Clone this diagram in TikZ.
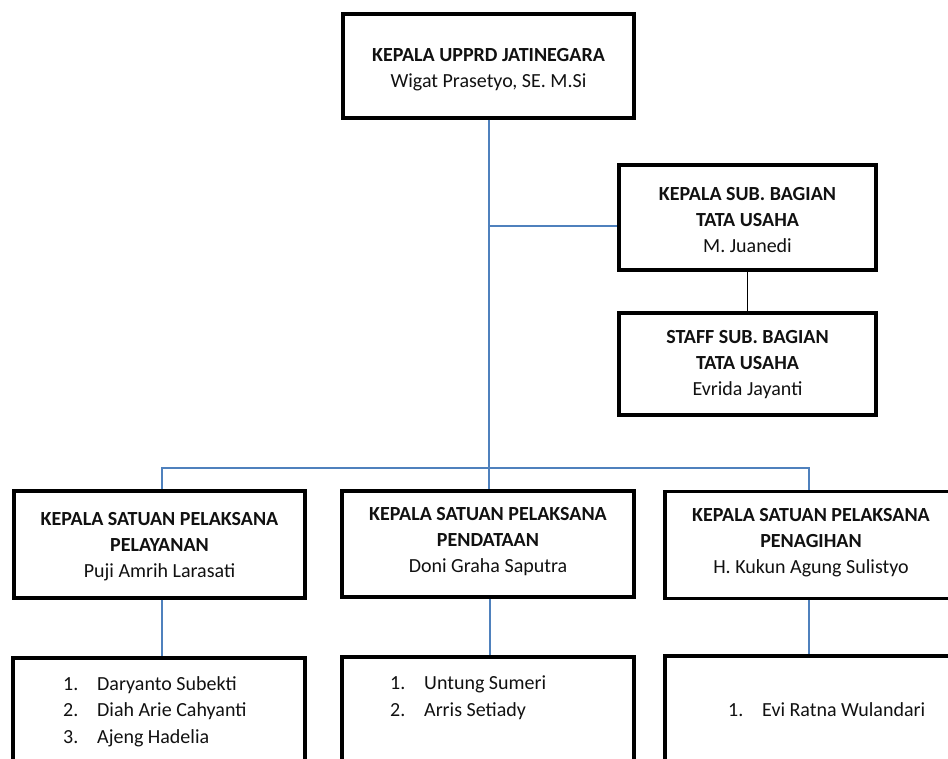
\documentclass[tikz,border=0pt]{standalone}
\usepackage{fontspec}
\setmainfont{Carlito}
\definecolor{linkblue}{HTML}{4F81BD}
\definecolor{txt}{HTML}{111111}
\begin{document}
\begin{tikzpicture}[x=1pt,y=-1pt,
  box/.style={draw=black,line width=3.6pt,fill=white,inner sep=0pt},
  boxtxt/.style={inner sep=0pt,text=txt,align=center,font=\fontsize{20}{26}\selectfont},
  listtxt/.style={inner sep=0pt,anchor=north west,align=left,text=txt,
    font=\fontsize{20}{26.5}\selectfont},
  blueline/.style={draw=linkblue,line width=1.3pt},
  blackline/.style={draw=black,line width=1.3pt}]
\useasboundingbox (0,0) rectangle (948,759);
\clip (0,0) rectangle (948,759);
\fill[white] (0,0) rectangle (948,759);
% boxes
\node[box,minimum width=291pt,minimum height=104pt] (top) at (488.5,66) {};
\node[box,minimum width=257pt,minimum height=105pt] (sub) at (747.5,217.5) {};
\node[box,minimum width=257pt,minimum height=102pt] (staff) at (747.5,364) {};
\node[box,minimum width=291pt,minimum height=107pt] (l1) at (159.5,544.5) {};
\node[box,minimum width=292pt,minimum height=106pt] (m1) at (488,544) {};
\node[box,minimum width=292pt,minimum height=107pt] (r1) at (811,545) {};
\node[box,minimum width=292pt,minimum height=160pt,anchor=north] (l2) at (159,656) {};
\node[box,minimum width=292pt,minimum height=160pt,anchor=north] (m2) at (488,655) {};
\node[box,minimum width=292pt,minimum height=160pt,anchor=north] (r2) at (811,654) {};
% box texts
\node[boxtxt] (topt) at (488.5,69.5)
  {\textbf{KEPALA UPPRD JATINEGARA}\\Wigat Prasetyo, SE. M.Si};
\node[boxtxt] (subt) at (747.5,220.5)
  {\textbf{KEPALA SUB. BAGIAN}\\\textbf{TATA USAHA}\\M. Juanedi};
\node[boxtxt] (stafft) at (747.5,365)
  {\textbf{STAFF SUB. BAGIAN}\\\textbf{TATA USAHA}\\Evrida Jayanti};
\node[boxtxt] (l1t) at (159.5,547)
  {\textbf{KEPALA SATUAN PELAKSANA}\\\textbf{PELAYANAN}\\Puji Amrih Larasati};
\node[boxtxt] (m1t) at (488,542)
  {\textbf{KEPALA SATUAN PELAKSANA}\\\textbf{PENDATAAN}\\Doni Graha Saputra};
\node[boxtxt] (r1t) at (811,543)
  {\textbf{KEPALA SATUAN PELAKSANA}\\\textbf{PENAGIHAN}\\H. Kukun Agung Sulistyo};
% lists
\node[listtxt] (l2t) at (63,676)
  {\makebox[34pt][l]{1.}Daryanto Subekti\\\makebox[34pt][l]{2.}Diah Arie Cahyanti\\\makebox[34pt][l]{3.}Ajeng Hadelia};
\node[listtxt] (m2t) at (390,676)
  {\makebox[34pt][l]{1.}Untung Sumeri\\\makebox[34pt][l]{2.}Arris Setiady};
\node[listtxt] (r2t) at (728,702)
  {\makebox[34pt][l]{1.}Evi Ratna Wulandari};
% connectors
\coordinate (jb) at (489,468);
\coordinate (js) at (489,226);
\draw[blueline] (top.south -| jb) -- (jb);
\draw[blueline] (js) -- (js -| sub.west);
\draw[blackline] (sub.south) -- (staff.north);
\draw[blueline] (l1.north -| 162,0) |- (jb) -| (r1.north -| 809,0);
\draw[blueline] (jb) -- (m1.north -| jb);
\draw[blueline] (l1.south -| 162,0) -- (l2.north -| 162,0);
\draw[blueline] (m1.south -| 490,0) -- (m2.north -| 490,0);
\draw[blueline] (r1.south -| 809,0) -- (r2.north -| 809,0);
\end{tikzpicture}
\end{document}
